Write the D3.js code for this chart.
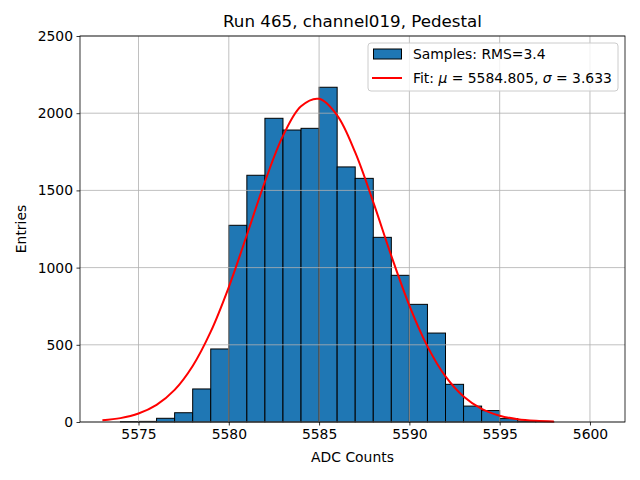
<!DOCTYPE html>
<html>
<head>
<meta charset="utf-8">
<script src="https://cdn.jsdelivr.net/npm/d3@7"></script>
<style>
  body { margin: 0; background: #fff; }
  svg { font-family: "DejaVu Sans", sans-serif; }
</style>
</head>
<body>
<div class="chart"></div>
<script>
// histogram bins (left edge) and entries
var binEdges = [5574, 5575, 5576, 5577, 5578, 5579, 5580, 5581, 5582, 5583, 5584, 5585, 5586,
                5587, 5588, 5589, 5590, 5591, 5592, 5593, 5594, 5595, 5596, 5597];
var counts = [3, 4, 24, 60, 214, 473, 1274, 1598, 1967, 1891, 1902, 2168, 1652,
              1578, 1196, 950, 762, 576, 244, 103, 74, 22, 6, 1];

// fit curve
var fitX = [5573, 5574, 5575, 5576, 5577, 5578, 5579, 5580, 5581, 5582, 5583, 5584, 5585,
            5586, 5587, 5588, 5589, 5590, 5591, 5592, 5593, 5594, 5595, 5596, 5597, 5598];
var fitY = [11, 25, 55, 111, 208, 363, 585, 874, 1211, 1556, 1853, 2045, 2093,
            1986, 1746, 1424, 1076, 754, 490, 295, 165, 85, 41, 18, 7.5, 3];

var xTicks = [5575, 5580, 5585, 5590, 5595, 5600];
var yTicks = [0, 500, 1000, 1500, 2000, 2500];

var titleText = 'Run 465, channel019, Pedestal';

var margin = { top: 36, right: 15, bottom: 58, left: 80 };
var width = 640 - margin.left - margin.right;
var height = 480 - margin.top - margin.bottom;

var svg = d3.select('.chart')
  .append('svg')
    .attr('width', 640)
    .attr('height', 480);

var g = svg.append('g')
    .attr('transform', 'translate(' + margin.left + ',' + margin.top + ')');

var xScale = d3.scaleLinear()
  .domain([5571.76, 5601.94])
  .range([0, width]);

var yScale = d3.scaleLinear()
  .domain([0, 2500])
  .range([height, 0]);

// bars
g.selectAll('.bar')
  .data(counts)
  .enter()
  .append('rect')
    .attr('class', 'bar')
    .attr('x', (d, i) => xScale(binEdges[i]))
    .attr('width', (d, i) => xScale(binEdges[i] + 1) - xScale(binEdges[i]))
    .attr('y', d => yScale(d))
    .attr('height', d => yScale(0) - yScale(d))
    .style('fill', '#1f77b4')
    .style('stroke', '#000')
    .style('stroke-width', 1);

// grid (drawn over the bars, like matplotlib)
g.selectAll('.vgrid')
  .data(xTicks)
  .enter()
  .append('line')
    .attr('x1', d => xScale(d)).attr('x2', d => xScale(d))
    .attr('y1', 0).attr('y2', height)
    .style('stroke', '#b0b0b0').style('stroke-width', 0.8);

g.selectAll('.hgrid')
  .data(yTicks)
  .enter()
  .append('line')
    .attr('x1', 0).attr('x2', width)
    .attr('y1', d => yScale(d)).attr('y2', d => yScale(d))
    .style('stroke', '#b0b0b0').style('stroke-width', 0.8);

// fit line
var line = d3.line()
  .x(d => xScale(d[0]))
  .y(d => yScale(d[1]))
  .curve(d3.curveCatmullRom.alpha(0.5));

g.append('path')
  .attr('d', line(fitX.map((x, i) => [x, fitY[i]])))
  .style('stroke', 'red')
  .style('stroke-width', 2)
  .style('fill', 'none');

// axes
var xAxis = g.append('g')
  .attr('transform', `translate(0, ${height})`)
  .call(d3.axisBottom(xScale).tickValues(xTicks).tickFormat(d3.format('d'))
    .tickSizeOuter(0).tickSize(3.5).tickPadding(3.5));

var yAxis = g.append('g')
  .call(d3.axisLeft(yScale).tickValues(yTicks).tickFormat(d3.format('d'))
    .tickSizeOuter(0).tickSize(3.5).tickPadding(3.5));

[xAxis, yAxis].forEach(a => {
  a.selectAll('text').style('font-size', '13.9px').style('fill', '#000').style('font-family', '"DejaVu Sans", sans-serif');
  a.selectAll('line').style('stroke', '#000').style('stroke-width', 0.8);
  a.select('.domain').remove();
});

// frame
g.append('rect')
  .attr('width', width).attr('height', height)
  .style('fill', 'none').style('stroke', '#000').style('stroke-width', 0.8);

// title and labels
svg.append('text')
  .attr('x', margin.left + width / 2).attr('y', 27)
  .attr('text-anchor', 'middle')
  .style('font-size', '16.7px')
  .text(titleText);

svg.append('text')
  .attr('x', margin.left + width / 2).attr('y', 462)
  .attr('text-anchor', 'middle')
  .style('font-size', '13.9px')
  .text('ADC Counts');

svg.append('text')
  .attr('transform', 'translate(26,' + (margin.top + height / 2) + ') rotate(-90)')
  .attr('text-anchor', 'middle')
  .style('font-size', '13.9px')
  .text('Entries');

// legend
var lg = svg.append('g').attr('transform', 'translate(368,43)');
lg.append('rect')
  .attr('width', 250).attr('height', 48).attr('rx', 3)
  .style('fill', 'rgba(255,255,255,0.8)')
  .style('stroke', '#cccccc').style('stroke-width', 1);
lg.append('rect')
  .attr('x', 5.5).attr('y', 6).attr('width', 28).attr('height', 10)
  .style('fill', '#1f77b4').style('stroke', '#000').style('stroke-width', 1);
lg.append('line')
  .attr('x1', 4).attr('x2', 34).attr('y1', 35).attr('y2', 35)
  .style('stroke', 'red').style('stroke-width', 2);
lg.append('text')
  .attr('x', 45).attr('y', 16)
  .style('font-size', '13.9px')
  .text('Samples: RMS=3.4');
var ft = lg.append('text')
  .attr('x', 45).attr('y', 40)
  .style('font-size', '13.9px');
ft.append('tspan').text('Fit: ');
ft.append('tspan').style('font-style', 'italic').text('μ');
ft.append('tspan').text(' = 5584.805, ');
ft.append('tspan').style('font-style', 'italic').text('σ');
ft.append('tspan').text(' = 3.633');
</script>
</body>
</html>
